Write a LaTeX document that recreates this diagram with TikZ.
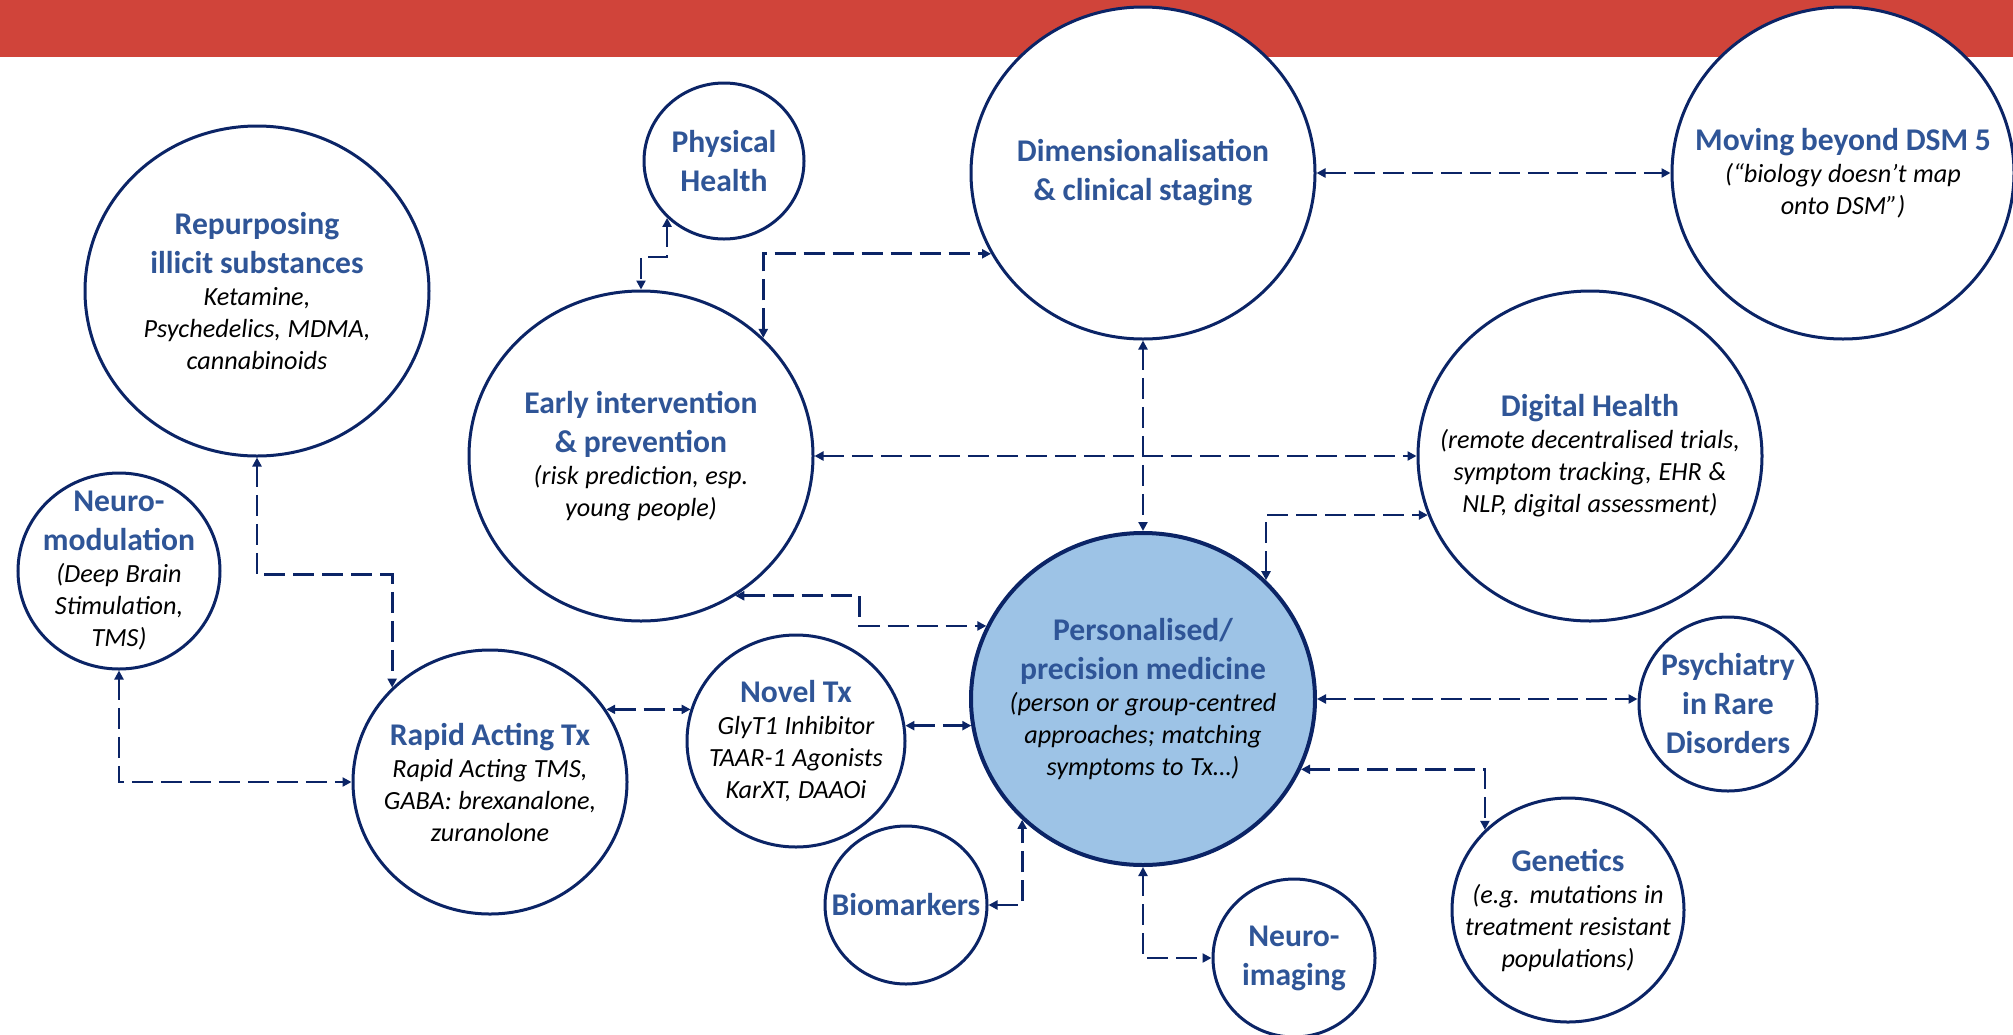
\documentclass[tikz,border=0pt]{standalone}
\usepackage{fontspec}
\setmainfont{Carlito}
\usetikzlibrary{shapes.geometric,arrows.meta}
\definecolor{navy}{HTML}{0B2466}
\definecolor{tblue}{HTML}{2F5597}
\definecolor{band}{HTML}{D0443A}
\definecolor{pmfill}{HTML}{9DC3E6}
\newcommand\mytitle{\fontsize{15.8}{19.5}\selectfont\bfseries\color{tblue}}
\newcommand\mybody{\fontsize{13.1}{16}\selectfont\itshape\color{black}}
\begin{document}
\begin{tikzpicture}[x=0.5pt,y=-0.5pt,
  bub/.style={ellipse, draw=navy, line width=1.5pt, fill=white, inner sep=0pt},
  txt/.style={align=center, text width=180pt, inner sep=0pt},
  conn/.style={draw=navy, line width=1.35pt, dash pattern=on 10.5pt off 4pt,
    {Triangle[length=4.5pt,width=4.5pt]}-{Triangle[length=4.5pt,width=4.5pt]}},
]
\useasboundingbox (0,0) rectangle (2013,1034);
\fill[band] (0,0) rectangle (2013,57);

% bubbles
\node[bub, minimum width=172pt, minimum height=165pt] (rep) at (257,291) {};
\node[bub, minimum width=80pt,  minimum height=78pt]  (ph)  at (724,161) {};
\node[bub, minimum width=172pt, minimum height=165pt] (ei)  at (641,456) {};
\node[bub, minimum width=172pt, minimum height=166pt] (dim) at (1143,173) {};
\node[bub, minimum width=171pt, minimum height=166pt] (dsm) at (1843,173) {};
\node[bub, minimum width=172pt, minimum height=165pt] (dh)  at (1590,456) {};
\node[bub, minimum width=101pt, minimum height=98pt]  (nm)  at (119,571) {};
\node[bub, minimum width=137pt, minimum height=132pt] (ra)  at (490,782) {};
\node[bub, minimum width=109pt, minimum height=106pt] (nov) at (796,741) {};
\node[bub, minimum width=81pt,  minimum height=79pt]  (bio) at (906,905) {};
\node[bub, fill=pmfill, line width=2pt, minimum width=172pt, minimum height=166pt] (pm) at (1143,699) {};
\node[bub, minimum width=89pt,  minimum height=87pt]  (pr)  at (1728,704) {};
\node[bub, minimum width=116pt, minimum height=112pt] (gen) at (1568,910) {};
\node[bub, minimum width=81pt,  minimum height=79pt]  (ni)  at (1294,958) {};

% texts
\node[txt] (rep-t) at (rep) {{\mytitle Repurposing\\illicit substances\par}{\mybody Ketamine,\\Psychedelics, MDMA,\\cannabinoids\par}};
\node[txt] (ph-t) at (ph) {{\mytitle Physical\\Health\par}};
\node[txt] (ei-t) at (ei) {{\mytitle Early intervention\\\& prevention\par}{\mybody (risk prediction, esp.\\young people)\par}};
\node[txt] (dim-t) at (dim) {{\mytitle Dimensionalisation\\\& clinical staging\par}};
\node[txt] (dsm-t) at (dsm) {{\mytitle Moving beyond DSM 5\par}{\mybody (“biology doesn’t map\\onto DSM”)\par}};
\node[txt] (dh-t) at (dh) {{\mytitle Digital Health\par}{\mybody (remote decentralised trials,\\symptom tracking, EHR \&\\NLP, digital assessment)\par}};
\node[txt] (nm-t) at (nm) {{\mytitle Neuro-\\modulation\par}{\mybody (Deep Brain\\Stimulation,\\TMS)\par}};
\node[txt] (ra-t) at (ra) {{\mytitle Rapid Acting Tx\par}{\mybody Rapid Acting TMS,\\GABA: brexanalone,\\zuranolone\par}};
\node[txt] (nov-t) at (nov) {{\mytitle Novel Tx\par}{\mybody GlyT1 Inhibitor\\TAAR-1 Agonists\\KarXT, DAAOi\par}};
\node[txt] (bio-t) at (bio) {{\mytitle Biomarkers\par}};
\node[txt] (pm-t) at (pm) {{\mytitle Personalised/\\precision medicine\par}{\mybody (person or group-centred\\approaches; matching\\symptoms to Tx…)\par}};
\node[txt] (pr-t) at (pr) {{\mytitle Psychiatry\\in Rare\\Disorders\par}};
\node[txt] (gen-t) at (gen) {{\mytitle Genetics\par}{\mybody (e.g. mutations in\\treatment resistant\\populations)\par}};
\node[txt] (ni-t) at (ni) {{\mytitle Neuro-\\imaging\par}};

% connectors
\draw[conn] (ph.-135) -- ++(0,39) -| (ei.north);
\draw[conn] (ei.44) |- (dim.-152);
\draw[conn] (dim.east) -- (dsm.west);
\draw[conn] (ei.east) -- (dh.west);
\draw[conn] (dim.south) -- (pm.north);
\draw[conn] (pm.44) |- (dh.-160);
\draw[conn] (ei.-56) -- ++(124,0) |- (pm.155);
\draw[conn] (rep.south) -- ++(0,117) -| (ra.136);
\draw[conn] (nm.south) |- (ra.west);
\draw[conn] (ra.32) -- (ra.32 -| nov.163);
\draw[conn] (nov.8) -- (nov.8 -| pm.-171);
\draw[conn] (bio.east) -| (pm.-135);
\draw[conn] (pm.south) |- (ni.west);
\draw[conn] (pm.east) -- (pm.east -| pr.west);
\draw[conn] (pm.-24) -| (gen.136);
\end{tikzpicture}
\end{document}
